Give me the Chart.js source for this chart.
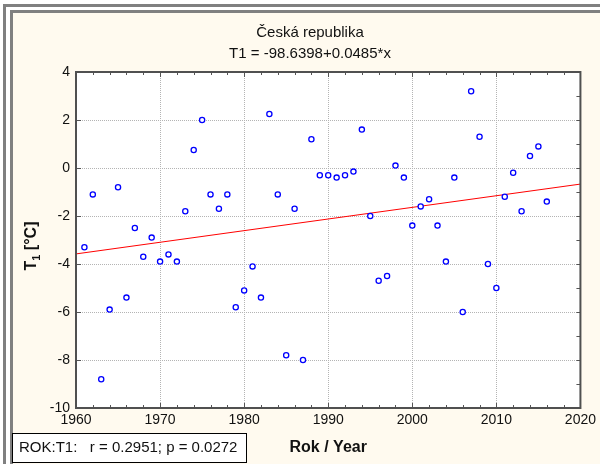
<!DOCTYPE html>
<html>
<head>
<meta charset="utf-8">
<script src="https://cdn.jsdelivr.net/npm/chart.js@4"></script>
<style>
  body { margin: 0; background: #fff; }
  #outer { position: absolute; left: 3px; top: 4px; width: 600px; height: 470px; border-top: 3px solid #808080; border-left: 3px solid #808080; }
  #inner { position: absolute; left: 10px; top: 10px; width: 600px; height: 470px; border-top: 3px solid #808080; border-left: 3px solid #808080; background: #fffaef; }
  #wrap { position: absolute; left: 0; top: 0; width: 600px; height: 464px; }
</style>
</head>
<body>
<div id="outer"></div>
<div id="inner"></div>
<div id="wrap"><canvas id="chart" width="600" height="464"></canvas></div>
<script>
const years = [
  1961, 1962, 1963, 1964, 1965, 1966, 1967, 1968, 1969, 1970,
  1971, 1972, 1973, 1974, 1975, 1976, 1977, 1978, 1979, 1980,
  1981, 1982, 1983, 1984, 1985, 1986, 1987, 1988, 1989, 1990,
  1991, 1992, 1993, 1994, 1995, 1996, 1997, 1998, 1999, 2000,
  2001, 2002, 2003, 2004, 2005, 2006, 2007, 2008, 2009, 2010,
  2011, 2012, 2013, 2014, 2015, 2016,
];
const temps = [
  -3.3, -1.1, -8.8, -5.9, -0.8, -5.4, -2.5, -3.7, -2.9, -3.9,
  -3.6, -3.9, -1.8, 0.75, 2.0, -1.1, -1.7, -1.1, -5.8, -5.1,
  -4.1, -5.4, 2.25, -1.1, -7.8, -1.7, -8.0, 1.2, -0.3, -0.3,
  -0.4, -0.3, -0.15, 1.6, -2.0, -4.7, -4.5, 0.1, -0.4, -2.4,
  -1.6, -1.3, -2.4, -3.9, -0.4, -6.0, 3.2, 1.3, -4.0, -5.0,
  -1.2, -0.2, -1.8, 0.5, 0.9, -1.4,
];
const trendYears = [1960, 2020];
const trendTemps = [-3.58, -0.67];

const titleLines = ['Česká republika', 'T1 = -98.6398+0.0485*x'];
const statsText = 'ROK:T1:   r = 0.2951; p = 0.0272';
// y axis title: main letter, subscript, rest
const yTitleParts = ['T', '1', ' [°C]'];

const FONT = "'Liberation Sans', Arial, sans-serif";

const framePlugin = {
  id: 'frame',
  beforeDraw(chart) {
    const { ctx, chartArea: a } = chart;
    ctx.save();
    ctx.fillStyle = '#ffffff';
    ctx.fillRect(a.left, a.top, a.right - a.left, a.bottom - a.top);
    ctx.restore();
  },
  afterDraw(chart) {
    const { ctx, chartArea: a, scales } = chart;
    const { x, y } = scales;
    ctx.save();

    // title, centred on the cream panel
    ctx.fillStyle = '#111111';
    ctx.font = `15px ${FONT}`;
    ctx.textAlign = 'center';
    ctx.textBaseline = 'middle';
    titleLines.forEach((line, i) => ctx.fillText(line, 310, 33 + i * 21));

    // rotated y title with a real subscript
    const big = `bold 16px ${FONT}`;
    const small = `bold 11px ${FONT}`;
    ctx.font = big;
    const w0 = ctx.measureText(yTitleParts[0]).width;
    const w2 = ctx.measureText(yTitleParts[2]).width;
    ctx.font = small;
    const w1 = ctx.measureText(yTitleParts[1]).width;
    ctx.save();
    ctx.translate(36, 246);
    ctx.rotate(-Math.PI / 2);
    ctx.textAlign = 'left';
    ctx.textBaseline = 'alphabetic';
    let cx = -(w0 + w1 + w2) / 2;
    ctx.font = big;
    ctx.fillText(yTitleParts[0], cx, 0);
    cx += w0;
    ctx.font = small;
    ctx.fillText(yTitleParts[1], cx, 4);
    cx += w1;
    ctx.font = big;
    ctx.fillText(yTitleParts[2], cx, 0);
    ctx.restore();

    // inward tick marks
    ctx.strokeStyle = '#555555';
    ctx.lineWidth = 1;
    ctx.beginPath();
    for (let v = 1960; v <= 2020; v += 2) {
      const px = Math.round(x.getPixelForValue(v)) + 0.5;
      const len = v % 10 === 0 ? 5 : 3;
      ctx.moveTo(px, a.bottom);
      ctx.lineTo(px, a.bottom - len);
      ctx.moveTo(px, a.top);
      ctx.lineTo(px, a.top + len);
    }
    for (let v = -10; v <= 4; v += 1) {
      const py = Math.round(y.getPixelForValue(v)) + 0.5;
      ctx.moveTo(a.right, py);
      ctx.lineTo(a.right - 4, py);
      if (v % 2 === 0) {
        ctx.moveTo(a.left, py);
        ctx.lineTo(a.left + 5, py);
      }
    }
    ctx.stroke();
    ctx.strokeStyle = '#505050';
    ctx.lineWidth = 2;
    ctx.strokeRect(a.left, a.top, a.right - a.left, a.bottom - a.top);

    // stats box
    ctx.fillStyle = '#ffffff';
    ctx.fillRect(12.5, 433.5, 234, 29);
    ctx.strokeStyle = '#000000';
    ctx.lineWidth = 1;
    ctx.strokeRect(12.5, 433.5, 234, 29);
    ctx.fillStyle = '#111111';
    ctx.font = `15px ${FONT}`;
    ctx.textAlign = 'left';
    ctx.textBaseline = 'middle';
    ctx.fillText(statsText, 19, 448);
    ctx.restore();
  },
};

new Chart(document.getElementById('chart'), {
  type: 'scatter',
  data: {
    datasets: [
      {
        data: years.map((yr, i) => ({ x: yr, y: temps[i] })),
        pointStyle: 'circle',
        pointRadius: 2.6,
        pointBorderWidth: 1.3,
        borderColor: '#0000ff',
        backgroundColor: '#ffffff',
        order: 0,
      },
      {
        type: 'line',
        data: trendYears.map((yr, i) => ({ x: yr, y: trendTemps[i] })),
        borderColor: '#ff0000',
        borderWidth: 1,
        pointRadius: 0,
        fill: false,
        order: 1,
      },
    ],
  },
  options: {
    responsive: false,
    animation: false,
    events: [],
    layout: { padding: { left: 0, right: 17, top: 72, bottom: 0 } },
    plugins: {
      legend: { display: false },
      tooltip: { enabled: false },
      title: { display: false },
    },
    scales: {
      x: {
        type: 'linear',
        min: 1960,
        max: 2020,
        afterFit: (s) => { s.height = 56; },
        ticks: {
          stepSize: 10,
          color: '#111111',
          padding: 4,
          maxRotation: 0,
          font: { family: FONT, size: 14 },
          callback: (v) => String(v),
        },
        grid: { color: '#b4b4b4', drawTicks: false },
        border: { display: false, dash: [1, 1] },
        title: {
          display: true,
          text: 'Rok / Year',
          color: '#111111',
          font: { family: FONT, size: 16, weight: 'bold' },
          padding: { top: 0, bottom: 7 },
        },
      },
      y: {
        min: -10,
        max: 4,
        afterFit: (s) => { s.width = 76; },
        ticks: { stepSize: 2, color: '#111111', padding: 6, font: { family: FONT, size: 14 } },
        grid: { color: '#b4b4b4', drawTicks: false },
        border: { display: false, dash: [1, 1] },
        title: { display: false },
      },
    },
  },
  plugins: [framePlugin],
});
</script>
</body>
</html>
